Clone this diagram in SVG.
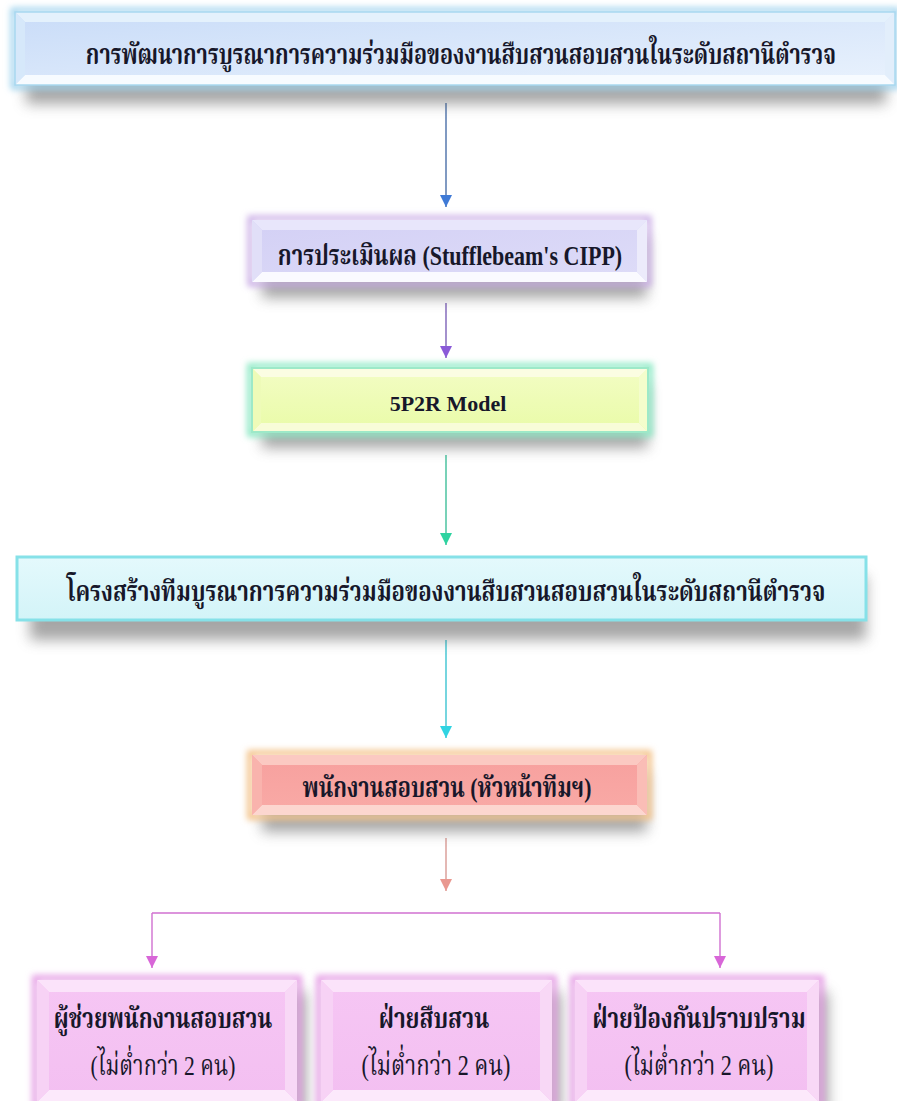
<svg xmlns="http://www.w3.org/2000/svg" width="897" height="1101" viewBox="0 0 897 1101">
<defs>
<style>
.t{font-family:"Liberation Serif","Noto Serif Thai","Noto Sans Thai","Loma","Garuda","Norasi",serif;font-weight:bold;fill:#17172a;text-anchor:middle}
.n{font-weight:normal}
.lat{font-family:"Liberation Serif",serif;font-weight:bold}
.shadow{fill:#5e5e5e;opacity:.55;filter:url(#blur6)}
</style>
<filter id="blur6" x="-20%" y="-60%" width="140%" height="220%"><feGaussianBlur stdDeviation="7"/></filter>
<filter id="blur3" x="-20%" y="-50%" width="140%" height="200%"><feGaussianBlur stdDeviation="3"/></filter>
<linearGradient id="gBlue" x1="0" y1="0" x2="1" y2="1"><stop offset="0" stop-color="#c9dcf8"/><stop offset="1" stop-color="#e9f2fd"/></linearGradient>
<linearGradient id="gLav" x1="0" y1="0" x2="1" y2="1"><stop offset="0" stop-color="#d3d0f5"/><stop offset="1" stop-color="#dedcf8"/></linearGradient>
<linearGradient id="gYel" x1="0" y1="0" x2="0" y2="1"><stop offset="0" stop-color="#f3fdc4"/><stop offset="1" stop-color="#e9fba8"/></linearGradient>
<linearGradient id="gCyan" x1="0" y1="0" x2="0" y2="1"><stop offset="0" stop-color="#e4f9fc"/><stop offset="1" stop-color="#d3f4f8"/></linearGradient>
<linearGradient id="gRed" x1="0" y1="0" x2="0" y2="1"><stop offset="0" stop-color="#f7a09e"/><stop offset="1" stop-color="#f9aaa6"/></linearGradient>
<linearGradient id="gPink" x1="0" y1="0" x2="0" y2="1"><stop offset="0" stop-color="#f6c6f4"/><stop offset="1" stop-color="#f3bff1"/></linearGradient>
<marker id="mBlue" markerUnits="userSpaceOnUse" markerWidth="14" markerHeight="14" refX="12" refY="6" orient="auto"><path d="M0,0 L12,6 L0,12 Z" fill="#3f7ad6"/></marker>
<marker id="mPur" markerUnits="userSpaceOnUse" markerWidth="14" markerHeight="14" refX="12" refY="6" orient="auto"><path d="M0,0 L12,6 L0,12 Z" fill="#8a5ad8"/></marker>
<marker id="mGrn" markerUnits="userSpaceOnUse" markerWidth="14" markerHeight="14" refX="12" refY="6" orient="auto"><path d="M0,0 L12,6 L0,12 Z" fill="#2ed3a0"/></marker>
<marker id="mCyn" markerUnits="userSpaceOnUse" markerWidth="14" markerHeight="14" refX="12" refY="6" orient="auto"><path d="M0,0 L12,6 L0,12 Z" fill="#30d4e2"/></marker>
<marker id="mSal" markerUnits="userSpaceOnUse" markerWidth="14" markerHeight="14" refX="12" refY="6" orient="auto"><path d="M0,0 L12,6 L0,12 Z" fill="#e99890"/></marker>
<marker id="mMag" markerUnits="userSpaceOnUse" markerWidth="14" markerHeight="14" refX="12" refY="6" orient="auto"><path d="M0,0 L12,6 L0,12 Z" fill="#d866d8"/></marker>
</defs>
<rect width="897" height="1101" fill="#ffffff"/>

<g id="connectors" fill="none" stroke-width="1.4">
<path d="M446,103 V207" stroke="#4a6fa8" marker-end="url(#mBlue)"/>
<path d="M446,303 V358" stroke="#7d62b8" marker-end="url(#mPur)"/>
<path d="M446,455 V545" stroke="#3fbf9a" marker-end="url(#mGrn)"/>
<path d="M446,640 V738" stroke="#3cc4d2" marker-end="url(#mCyn)"/>
<path d="M446,838 V891" stroke="#d99a94" marker-end="url(#mSal)"/>
<path d="M152,913 H720" stroke="#d070d0"/>
<path d="M152,913 V968" stroke="#d070d0" marker-end="url(#mMag)"/>
<path d="M720,913 V968" stroke="#d070d0" marker-end="url(#mMag)"/>
</g>

<g id="n1">
<rect class="shadow" x="26" y="30" width="860" height="74"/>
<rect x="13" y="10" width="884" height="77" fill="none" stroke="#9fd3ee" stroke-width="5" filter="url(#blur3)"/>
<rect x="15" y="12" width="880" height="73" fill="url(#gBlue)"/>
<polygon points="15,12 895,12 885,22 25,22" fill="#e4f1fc"/>
<polygon points="15,85 895,85 885,75 25,75" fill="#f7fbff"/>
<polygon points="15,12 25,22 25,75 15,85" fill="#d6e8fa"/>
<polygon points="895,12 885,22 885,75 895,85" fill="#e2eefb"/>
<rect x="15" y="12" width="880" height="73" fill="none" stroke="#a8d8ef" stroke-width="1.5"/>
<text class="t" transform="translate(461,64) scale(1,1.3)" font-size="21.6">การพัฒนาการบูรณาการความร่วมมือของงานสืบสวนสอบสวนในระดับสถานีตำรวจ</text>
</g>

<g id="n2">
<rect class="shadow" x="262" y="236" width="385" height="62"/>
<rect x="250" y="218" width="399" height="66" fill="none" stroke="#c9ace6" stroke-width="5" filter="url(#blur3)"/>
<rect x="252" y="220" width="395" height="62" fill="url(#gLav)"/>
<polygon points="252,220 647,220 637,230 262,230" fill="#e8e6fb"/>
<polygon points="252,282 647,282 637,272 262,272" fill="#fafaff"/>
<polygon points="252,220 262,230 262,272 252,282" fill="#e1dff8"/>
<polygon points="647,220 637,230 637,272 647,282" fill="#ecebfb"/>
<text class="t" transform="translate(450,265) scale(1,1.25)" font-size="22">การประเมินผล <tspan class="lat">(Stufflebeam's CIPP)</tspan></text>
</g>

<g id="n3">
<rect class="shadow" x="262" y="384" width="386" height="64"/>
<rect x="250" y="366" width="400" height="68" fill="none" stroke="#8feac6" stroke-width="6" filter="url(#blur3)"/>
<rect x="252" y="368" width="396" height="64" fill="url(#gYel)"/>
<polygon points="252,368 648,368 639,377 261,377" fill="#fbfde2"/>
<polygon points="252,432 648,432 639,423 261,423" fill="#f8fcd8"/>
<polygon points="252,368 261,377 261,423 252,432" fill="#eefbb8"/>
<polygon points="648,368 639,377 639,423 648,432" fill="#f4fdcc"/>
<rect x="252" y="368" width="396" height="64" fill="none" stroke="#9de9c8" stroke-width="2"/>
<text class="t lat" x="448" y="411" font-size="22">5P2R Model</text>
</g>

<g id="n4">
<rect class="shadow" x="30" y="576" width="836" height="64"/>
<rect x="17" y="557" width="849" height="63" fill="url(#gCyan)" stroke="#86e1e8" stroke-width="3"/>
<text class="t" transform="translate(446,601) scale(1,1.3)" font-size="22.2">โครงสร้างทีมบูรณาการความร่วมมือของงานสืบสวนสอบสวนในระดับสถานีตำรวจ</text>
</g>

<g id="n5">
<rect class="shadow" x="262" y="772" width="385" height="60"/>
<rect x="250" y="753" width="399" height="64" fill="none" stroke="#f4c48c" stroke-width="6" filter="url(#blur3)"/>
<rect x="252" y="755" width="395" height="60" fill="url(#gRed)"/>
<polygon points="252,755 647,755 637,765 262,765" fill="#fbc9c2"/>
<polygon points="252,815 647,815 637,805 262,805" fill="#fcd6cf"/>
<polygon points="252,755 262,765 262,805 252,815" fill="#f9b3ad"/>
<polygon points="647,755 637,765 637,805 647,815" fill="#fabdb6"/>
<text class="t" transform="translate(447,797) scale(1,1.3)" font-size="21.7">พนักงานสอบสวน (หัวหน้าทีมฯ)</text>
</g>

<g id="n6">
<rect class="shadow" x="48" y="992" width="258" height="122"/>
<rect x="35" y="978" width="264" height="130" fill="none" stroke="#e6a2e6" stroke-width="6" filter="url(#blur3)"/>
<rect x="37" y="980" width="260" height="122" fill="url(#gPink)"/>
<polygon points="37,980 297,980 285,992 49,992" fill="#fbe3fa"/>
<polygon points="37,1102 297,1102 285,1090 49,1090" fill="#fce9fb"/>
<polygon points="37,980 49,992 49,1090 37,1102" fill="#f7d2f5"/>
<polygon points="297,980 285,992 285,1090 297,1102" fill="#f8d8f6"/>
<text class="t" transform="translate(163,1028) scale(1,1.3)" font-size="22">ผู้ช่วยพนักงานสอบสวน</text>
<text class="t n" transform="translate(163,1075) scale(1,1.3)" font-size="21.6">(ไม่ต่ำกว่า 2 คน)</text>
</g>

<g id="n7">
<rect class="shadow" x="332" y="992" width="229" height="122"/>
<rect x="319" y="978" width="235" height="130" fill="none" stroke="#e6a2e6" stroke-width="6" filter="url(#blur3)"/>
<rect x="321" y="980" width="231" height="122" fill="url(#gPink)"/>
<polygon points="321,980 552,980 540,992 333,992" fill="#fbe3fa"/>
<polygon points="321,1102 552,1102 540,1090 333,1090" fill="#fce9fb"/>
<polygon points="321,980 333,992 333,1090 321,1102" fill="#f7d2f5"/>
<polygon points="552,980 540,992 540,1090 552,1102" fill="#f8d8f6"/>
<text class="t" transform="translate(434,1028) scale(1,1.3)" font-size="22.4">ฝ่ายสืบสวน</text>
<text class="t n" transform="translate(436,1075) scale(1,1.3)" font-size="22.2">(ไม่ต่ำกว่า 2 คน)</text>
</g>

<g id="n8">
<rect class="shadow" x="586" y="992" width="242" height="122"/>
<rect x="573" y="978" width="248" height="130" fill="none" stroke="#e6a2e6" stroke-width="6" filter="url(#blur3)"/>
<rect x="575" y="980" width="244" height="122" fill="url(#gPink)"/>
<polygon points="575,980 819,980 807,992 587,992" fill="#fbe3fa"/>
<polygon points="575,1102 819,1102 807,1090 587,1090" fill="#fce9fb"/>
<polygon points="575,980 587,992 587,1090 575,1102" fill="#f7d2f5"/>
<polygon points="819,980 807,992 807,1090 819,1102" fill="#f8d8f6"/>
<text class="t" transform="translate(699,1028) scale(1,1.3)" font-size="22.2">ฝ่ายป้องกันปราบปราม</text>
<text class="t n" transform="translate(699,1075) scale(1,1.3)" font-size="22.2">(ไม่ต่ำกว่า 2 คน)</text>
</g>
</svg>
